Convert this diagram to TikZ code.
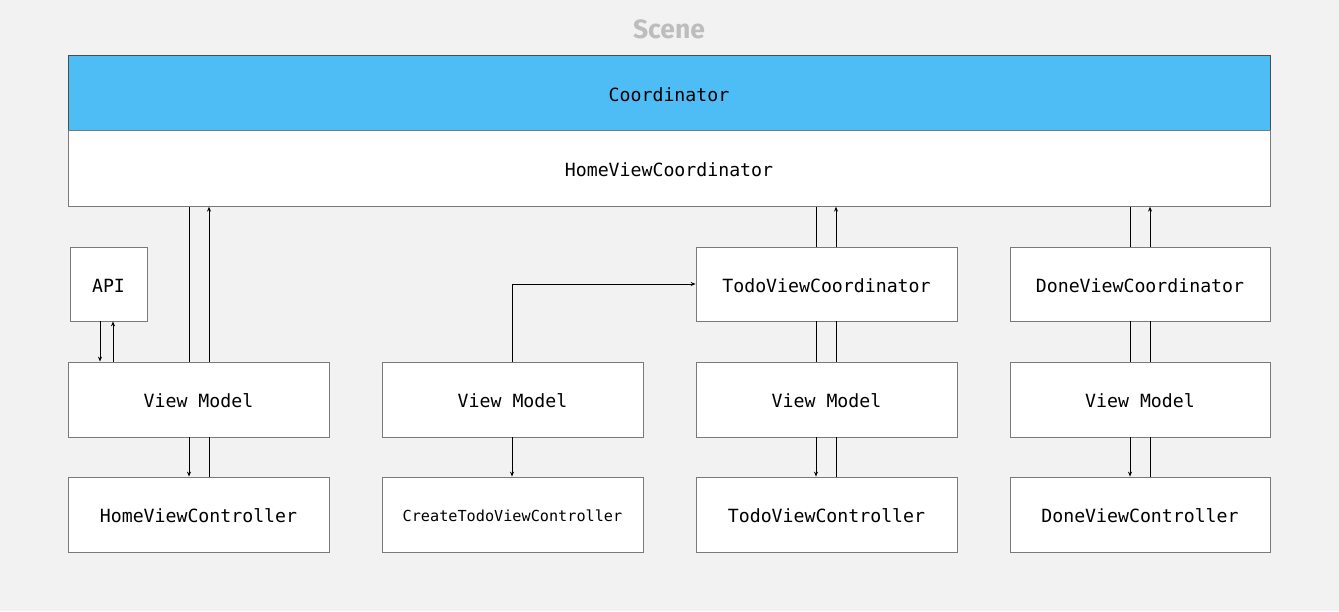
\documentclass[tikz,border=0pt]{standalone}
\usepackage{fontspec}
\setmonofont{DejaVu Sans Mono}
\newfontfamily\titlefont{Fira Sans}
\usetikzlibrary{arrows.meta}
\definecolor{bg}{HTML}{F2F2F2}
\definecolor{coordblue}{HTML}{4FBDF5}
\definecolor{edge}{HTML}{7A7A7A}
\definecolor{titlegray}{HTML}{BDBDBD}
\begin{document}
\begin{tikzpicture}[x=1pt,y=-1pt,
  box/.style={draw=edge, line width=0.8pt, fill=white, rectangle, inner sep=0pt,
    text height=16pt, text depth=0pt,
    font=\ttfamily\fontsize{18.2}{21}\selectfont, text=black},
  wide/.style={box, minimum width=1202, minimum height=75.5},
  cell/.style={box, minimum width=261, minimum height=75},
  link/.style={draw=black, line width=0.9pt},
  arr/.style={link, -{Stealth[length=5pt,width=4pt]}}]
\fill[bg] (0,0) rectangle (1339,611);
\useasboundingbox (0,0) rectangle (1339,611);

\node[font=\titlefont\bfseries\fontsize{26.5}{30}\selectfont, text=titlegray] (title) at (669,29) {Scene};

\node[wide, fill=coordblue, draw=black!70] (coord) at (669,93) {Coordinator};
\node[wide] (hvc) at (669,168.5) {HomeViewCoordinator};

\node[box, minimum width=77, minimum height=74] (api) at (108.5,284) {API};

\node[cell] (vm1) at (198.5,399.5) {View Model};
\node[cell] (hvctl) at (198.5,514.5) {HomeViewController};

\node[cell] (vm2) at (512.5,399.5) {View Model};
\node[cell, font=\ttfamily\fontsize{15.2}{18}\selectfont, text height=13.5pt] (ctvc) at (512.5,514.5) {CreateTodoViewController};

\node[cell, minimum height=74] (tvcoord) at (826.5,284) {TodoViewCoordinator};
\node[cell] (vm3) at (826.5,399.5) {View Model};
\node[cell] (tvctl) at (826.5,514.5) {TodoViewController};

\node[cell, minimum height=74, minimum width=260] (dvcoord) at (1140,284) {DoneViewCoordinator};
\node[cell, minimum width=260] (vm4) at (1140,399.5) {View Model};
\node[cell, minimum width=260] (dvctl) at (1140,514.5) {DoneViewController};

% x positions of connectors
\coordinate (a1) at (100,0);
\coordinate (a2) at (113,0);
\coordinate (h1) at (189,0);
\coordinate (h2) at (209,0);
\coordinate (c1) at (512,0);
\coordinate (t1) at (816,0);
\coordinate (t2) at (836,0);
\coordinate (d1) at (1130,0);
\coordinate (d2) at (1150,0);

% API
\draw[arr] (api.south -| a1) -- (vm1.north -| a1);
\draw[arr] (vm1.north -| a2) -- (api.south -| a2);

% Home column
\draw[link] (vm1.north -| h1) -- (hvc.south -| h1);
\draw[arr] (vm1.north -| h2) -- (hvc.south -| h2);
\draw[arr] (vm1.south -| h1) -- (hvctl.north -| h1);
\draw[link] (hvctl.north -| h2) -- (vm1.south -| h2);

% Create column
\draw[arr] (vm2.south -| c1) -- (ctvc.north -| c1);
\draw[arr] (vm2.north -| c1) |- (tvcoord.west);

% Todo column
\draw[link] (tvcoord.north -| t1) -- (hvc.south -| t1);
\draw[arr] (tvcoord.north -| t2) -- (hvc.south -| t2);
\draw[link] (tvcoord.south -| t1) -- (vm3.north -| t1);
\draw[link] (tvcoord.south -| t2) -- (vm3.north -| t2);
\draw[arr] (vm3.south -| t1) -- (tvctl.north -| t1);
\draw[link] (tvctl.north -| t2) -- (vm3.south -| t2);

% Done column
\draw[link] (dvcoord.north -| d1) -- (hvc.south -| d1);
\draw[arr] (dvcoord.north -| d2) -- (hvc.south -| d2);
\draw[link] (dvcoord.south -| d1) -- (vm4.north -| d1);
\draw[link] (dvcoord.south -| d2) -- (vm4.north -| d2);
\draw[arr] (vm4.south -| d1) -- (dvctl.north -| d1);
\draw[link] (dvctl.north -| d2) -- (vm4.south -| d2);
\end{tikzpicture}
\end{document}
